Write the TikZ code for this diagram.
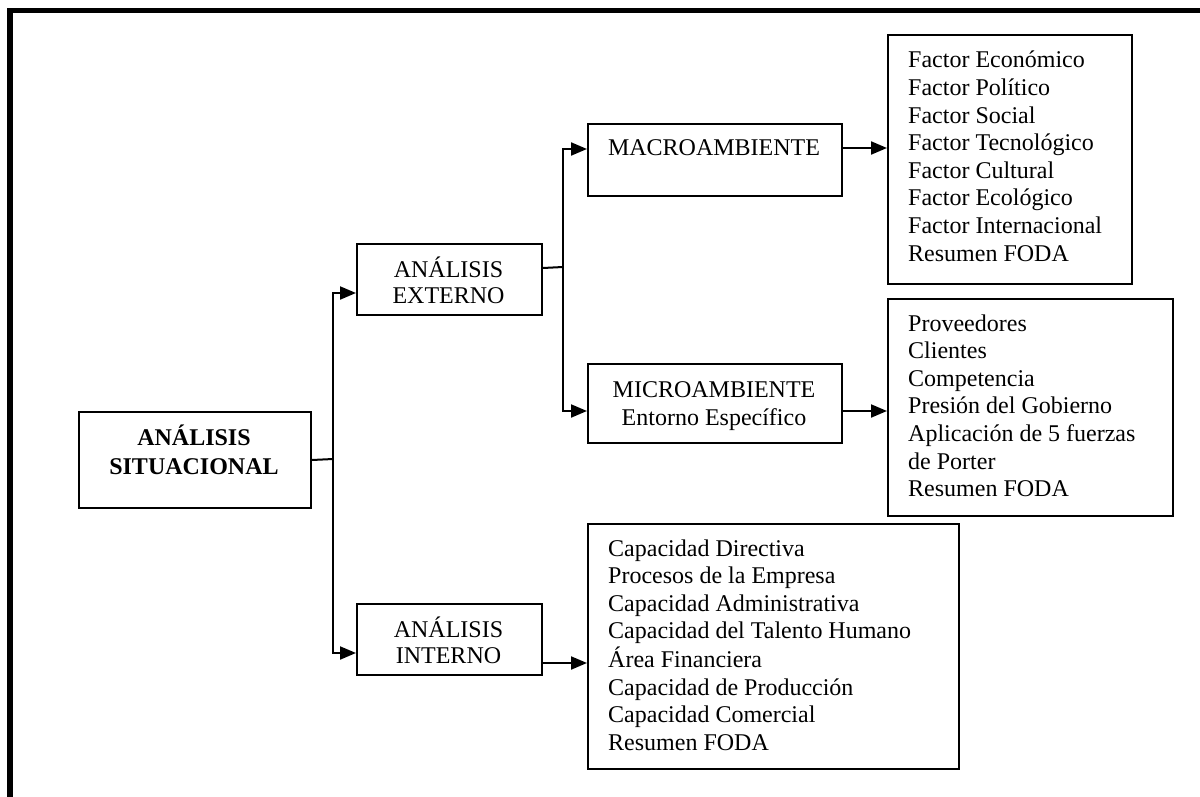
\documentclass[tikz,border=0pt]{standalone}
\usepackage{fontspec}
\setmainfont{Liberation Serif}
\usetikzlibrary{arrows.meta}

% stacked lines whose baseline is the first line
\newcommand{\leftlines}[1]{\begin{tabular}[t]{@{}l@{}}#1\end{tabular}}
\newcommand{\centerlines}[1]{\begin{tabular}[t]{@{}c@{}}#1\end{tabular}}

\begin{document}
\begin{tikzpicture}[x=1pt,y=-1pt,
  box/.style={draw, line width=2pt, inner sep=0pt, anchor=north west},
  txt/.style={inner sep=0pt, font=\fontsize{24}{27.6}\selectfont},
  link/.style={line width=2pt},
  arr/.style={line width=2pt, -{Triangle[length=16pt,width=13pt]}},
]
\useasboundingbox (0,0) rectangle (1200,797);

% outer frame (left and top edges)
\draw[line width=5.5pt] (10,797) -- (10,10.5) -- (1200,10.5);

% boxes
\node[box, minimum width=232pt, minimum height=96pt] (sit) at (78,411) {};
\node[box, minimum width=185pt, minimum height=71pt] (ext) at (356,243) {};
\node[box, minimum width=185pt, minimum height=71pt] (int) at (356,603) {};
\node[box, minimum width=254pt, minimum height=72pt] (macro) at (587,123) {};
\node[box, minimum width=254pt, minimum height=79pt] (micro) at (587,363) {};
\node[box, minimum width=244pt, minimum height=249pt] (l1) at (887,34) {};
\node[box, minimum width=285pt, minimum height=217pt] (l2) at (887,298) {};
\node[box, minimum width=371pt, minimum height=245pt] (l3) at (587,523) {};

% texts
\node[txt, anchor=base, font=\fontsize{24}{29}\selectfont\bfseries] (sitt) at (194,445)
  {\centerlines{ANÁLISIS\\SITUACIONAL}};
\node[txt, anchor=base, font=\fontsize{24}{26}\selectfont] (extt) at (448.5,277)
  {\centerlines{ANÁLISIS\\EXTERNO}};
\node[txt, anchor=base, font=\fontsize{24}{26}\selectfont] (intt) at (448.5,637)
  {\centerlines{ANÁLISIS\\INTERNO}};
\node[txt, anchor=base] (macrot) at (714,156) {MACROAMBIENTE};
\node[txt, anchor=base, font=\fontsize{24}{28}\selectfont] (microt) at (714,397)
  {\centerlines{MICROAMBIENTE\\Entorno Específico}};
\node[txt, anchor=base west] (l1t) at (908,68)
  {\leftlines{Factor Económico\\Factor Político\\Factor Social\\Factor Tecnológico\\
   Factor Cultural\\Factor Ecológico\\Factor Internacional\\Resumen FODA}};
\node[txt, anchor=base west] (l2t) at (908,331)
  {\leftlines{Proveedores\\Clientes\\Competencia\\Presión del Gobierno\\
   Aplicación de 5 fuerzas\\de Porter\\Resumen FODA}};
\node[txt, anchor=base west] (l3t) at (608,556)
  {\leftlines{Capacidad Directiva\\Procesos de la Empresa\\Capacidad Administrativa\\
   Capacidad del Talento Humano\\Área Financiera\\Capacidad de Producción\\
   Capacidad Comercial\\Resumen FODA}};

% junctions of the branching lines
\coordinate (j1) at (333,459);
\coordinate (j2) at (563,267);

% connectors
\draw[link] (sit.east) -- (j1);
\draw[arr] (j1) |- ([yshift=-13.5pt]ext.west);
\draw[arr] (j1) |- ([yshift=-13.5pt]int.west);
\draw[link] ([yshift=11.5pt]ext.east) -- (j2);
\draw[arr] (j2) |- ([yshift=11pt]macro.west);
\draw[arr] (j2) |- ([yshift=-7.5pt]micro.west);
\draw[arr] ([yshift=12pt]macro.east) -- ([yshift=12pt]macro.east -| l1.west);
\draw[arr] ([yshift=-7.5pt]micro.east) -- ([yshift=-7.5pt]micro.east -| l2.west);
\draw[arr] ([yshift=-23.5pt]int.east) -- ([yshift=-23.5pt]int.east -| l3.west);
\end{tikzpicture}
\end{document}
